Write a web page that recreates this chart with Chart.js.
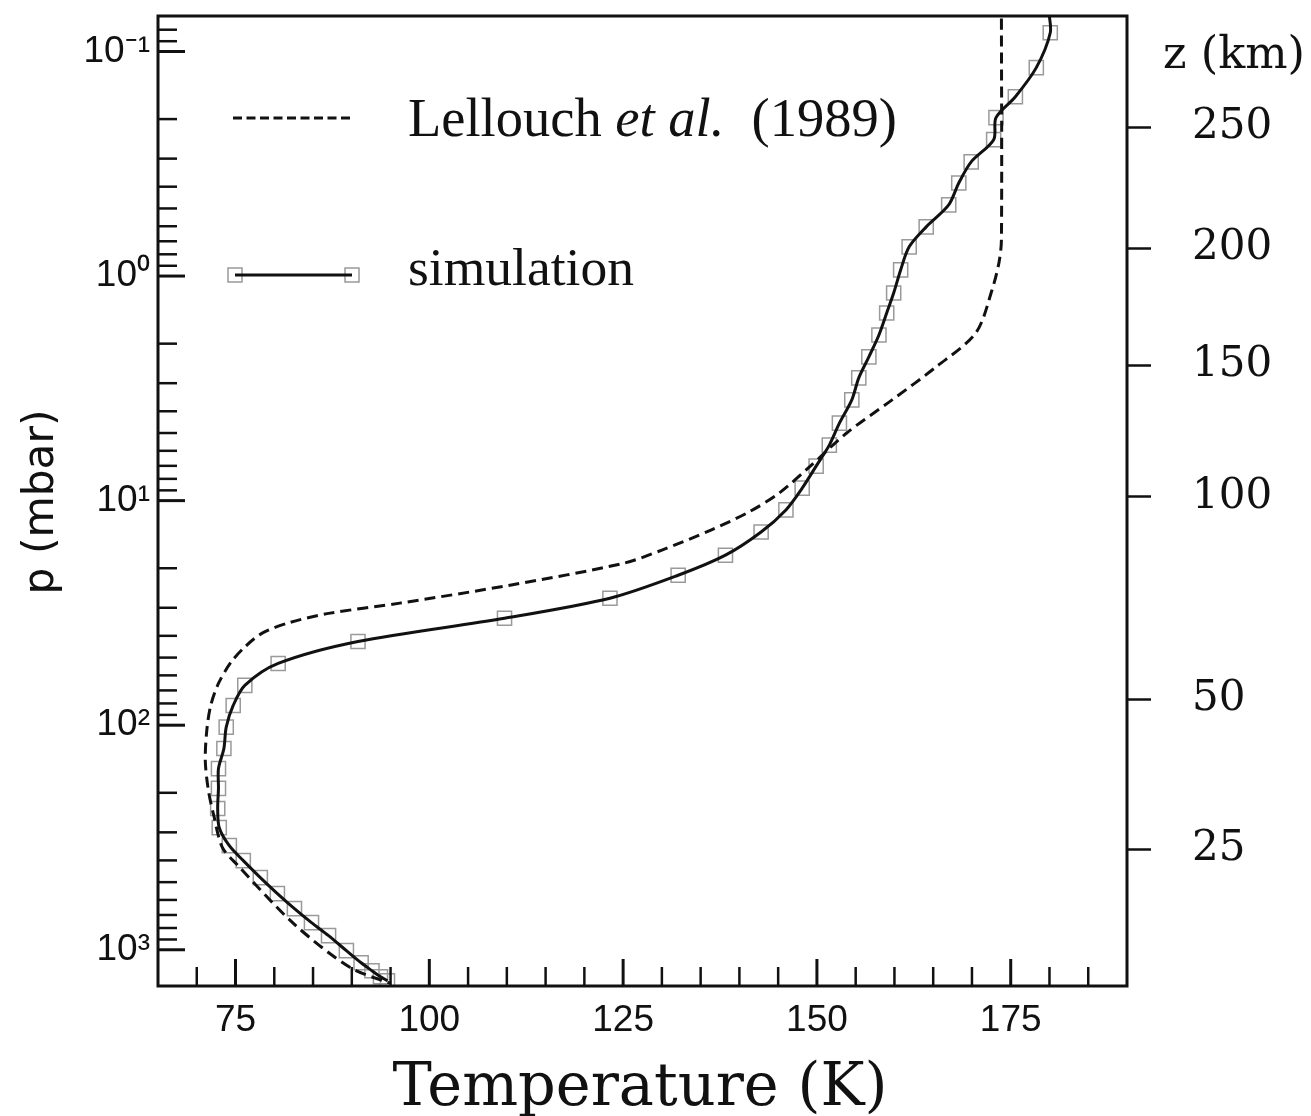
<!DOCTYPE html>
<html><head><meta charset="utf-8">
<script src="https://cdn.jsdelivr.net/npm/chart.js@4/dist/chart.umd.min.js"></script>
<style>html,body{margin:0;padding:0;background:#fff}#wrap{width:1311px;height:1116px}</style>
</head><body><div id="wrap"><canvas id="c" width="1311" height="1116"></canvas></div>
<script>
// ---- data ----
const simT = [179.9, 180.1, 178.3, 175.6, 173.1, 172.8, 169.9, 168.3, 167.0, 164.1, 161.9, 160.8, 159.9, 159.0, 158.0, 156.7, 155.4, 154.5, 152.9, 151.6, 149.9, 148.1, 146.0, 142.8, 138.2, 132.1, 123.3, 109.7, 90.8, 80.5, 76.2, 74.7, 73.8, 73.5, 72.8, 72.8, 72.7, 72.9, 74.2, 76.0, 78.2, 80.4, 82.6, 84.8, 87.0, 89.3, 91.2, 92.6, 93.7, 94.6];
const simP = [0.066, 0.0825, 0.118, 0.159, 0.197, 0.247, 0.310, 0.385, 0.482, 0.604, 0.741, 0.939, 1.19, 1.46, 1.83, 2.29, 2.84, 3.56, 4.52, 5.66, 7.02, 8.80, 11.0, 13.8, 17.5, 21.5, 27.2, 33.4, 42.4, 53.1, 66.5, 81.7, 102, 127, 156, 191, 235, 286, 344, 401, 477, 562, 656, 757, 865, 1009, 1143, 1240, 1319, 1374];
const lelT = [173.8, 173.8, 173.5, 172.6, 170.5, 165.3, 159.7, 153.8, 149.0, 145.1, 141.3, 136.4, 130.0, 125.1, 110.4, 96.2, 87.2, 82.1, 78.5, 76.3, 74.4, 72.8, 71.8, 71.3, 71.1, 71.5, 72.2, 73.3, 75.3, 82.5, 89.8, 95.0];
const lelP = [0.06, 0.69, 0.865, 1.15, 1.79, 2.55, 3.56, 5.01, 7.10, 9.27, 11.2, 13.5, 16.6, 19.0, 23.8, 28.6, 31.7, 34.8, 38.8, 44.5, 52.5, 65.2, 81.7, 105, 144, 195, 253, 350, 421, 765, 1200, 1413];
const xTickVals = [70, 75, 80, 85, 90, 95, 100, 105, 110, 115, 120, 125, 130, 135, 140, 145, 150, 155, 160, 165, 170, 175, 180, 185];
const xMajor = [75, 100, 125, 150, 175];
const pTickVals = [0.08, 0.09, 0.1, 0.2, 0.3, 0.4, 0.5, 0.6, 0.7, 0.8, 0.9, 1, 2, 3, 4, 5, 6, 7, 8, 9, 10, 20, 30, 40, 50, 60, 70, 80, 90, 100, 200, 300, 400, 500, 600, 700, 800, 900, 1000];
const pMajor = [0.1, 1, 10, 100, 1000];
const pMajorLabels = ['10\u207B\u00B9', '10\u2070', '10\u00B9', '10\u00B2', '10\u00B3'];
const zLabels = ['250', '200', '150', '100', '50', '25'];
const zPressure = [0.217, 0.751, 2.49, 9.62, 76.9, 358];
const xTitle = 'Temperature (K)';
const yTitle = 'p (mbar)';
const zTitle = 'z (km)';
const legLel = ['Lellouch ', 'et al.', '  (1989)'];
const legSim = 'simulation';

const simData = simT.map((t, i) => ({x: t, y: simP[i]}));
const lelData = lelT.map((t, i) => ({x: t, y: lelP[i]}));
const INK = '#111';

function fitFont(ctx, text, family, style, target, base) {
  ctx.font = style + ' ' + base + 'px "' + family + '"';
  const w = ctx.measureText(text).width;
  return base * target / w;
}
function noPadV(s) { s.paddingTop = 0; s.paddingBottom = 0; }

const decor = {
  id: 'decor',
  afterDraw(chart) {
    const ctx = chart.ctx, a = chart.chartArea;
    const xs = chart.scales.x, ys = chart.scales.y;
    ctx.save();
    ctx.strokeStyle = INK; ctx.lineCap = 'butt';
    // inward tick marks
    xs.ticks.forEach(t => {
      const px = xs.getPixelForValue(t.value);
      const mj = xMajor.includes(t.value);
      ctx.lineWidth = mj ? 3 : 2.5;
      ctx.beginPath(); ctx.moveTo(px, a.bottom); ctx.lineTo(px, a.bottom - (mj ? 27 : 19)); ctx.stroke();
    });
    ys.ticks.forEach(t => {
      const py = ys.getPixelForValue(t.value);
      const mj = pMajor.some(v => Math.abs(v - t.value) < 1e-9);
      ctx.lineWidth = mj ? 3 : 2.5;
      ctx.beginPath(); ctx.moveTo(a.left, py); ctx.lineTo(a.left + (mj ? 27 : 19), py); ctx.stroke();
    });
    // frame
    ctx.lineWidth = 3;
    ctx.strokeRect(a.left, a.top, a.right - a.left, a.bottom - a.top);

    // legend
    ctx.setLineDash([9, 4.5]); ctx.lineWidth = 3;
    ctx.beginPath(); ctx.moveTo(233, 118); ctx.lineTo(353, 118); ctx.stroke();
    ctx.setLineDash([]);
    ctx.strokeStyle = '#999'; ctx.lineWidth = 1.5;
    ctx.strokeRect(228, 268, 14, 14); ctx.strokeRect(345, 268, 14, 14);
    ctx.strokeStyle = INK; ctx.lineWidth = 3;
    ctx.beginPath(); ctx.moveTo(235, 275); ctx.lineTo(352, 275); ctx.stroke();

    ctx.fillStyle = INK; ctx.textBaseline = 'alphabetic'; ctx.textAlign = 'left';
    // Lellouch et al. (1989)
    let base = 54;
    ctx.font = base + 'px "Liberation Serif"';
    let w0 = ctx.measureText(legLel[0]).width + ctx.measureText(legLel[2]).width;
    ctx.font = 'italic ' + base + 'px "Liberation Serif"';
    w0 += ctx.measureText(legLel[1]).width;
    const fs = base * 489 / w0;
    let x = 408;
    ctx.font = fs + 'px "Liberation Serif"'; ctx.fillText(legLel[0], x, 136); x += ctx.measureText(legLel[0]).width;
    ctx.font = 'italic ' + fs + 'px "Liberation Serif"'; ctx.fillText(legLel[1], x, 136); x += ctx.measureText(legLel[1]).width;
    ctx.font = fs + 'px "Liberation Serif"'; ctx.fillText(legLel[2], x, 136);
    // simulation
    ctx.font = fitFont(ctx, legSim, 'Liberation Serif', '', 226, 54) + 'px "Liberation Serif"';
    ctx.fillText(legSim, 408, 285);

    // x title
    ctx.textAlign = 'center';
    ctx.font = fitFont(ctx, xTitle, 'DejaVu Serif', '', 495, 58) + 'px "DejaVu Serif"';
    ctx.fillText(xTitle, 640, 1105);
    // z title
    ctx.textAlign = 'left';
    ctx.font = fitFont(ctx, zTitle, 'DejaVu Serif', '', 142, 40) + 'px "DejaVu Serif"';
    ctx.fillText(zTitle, 1163, 68);
    // y title (rotated)
    ctx.save();
    ctx.translate(42, 502); ctx.rotate(-Math.PI / 2);
    ctx.textAlign = 'center'; ctx.textBaseline = 'middle';
    ctx.font = fitFont(ctx, yTitle, 'DejaVu Sans', '', 185, 40) + 'px "DejaVu Sans"';
    ctx.fillText(yTitle, 0, 0);
    ctx.restore();
    ctx.restore();
  }
};

new Chart(document.getElementById('c'), {
  type: 'line',
  data: {
    datasets: [
      {label: 'simulation', data: simData, borderColor: INK, borderWidth: 3, pointRadius: 0, tension: 0.3, fill: false, order: 0},
      {label: 'simulation markers', data: simData, showLine: false, pointStyle: 'rect',
       pointRadius: c => c.dataIndex === 0 ? 0 : 10, pointBorderColor: '#9a9a9a', pointBackgroundColor: 'rgba(0,0,0,0)', pointBorderWidth: 1.5, order: 2},
      {label: 'Lellouch et al. (1989)', data: lelData, borderColor: INK, borderWidth: 3, borderDash: [11, 6], pointRadius: 0, tension: 0.3, fill: false, order: 1}
    ]
  },
  options: {
    responsive: false, animation: false, devicePixelRatio: 1,
    layout: {padding: {top: 16, left: 0, right: 0, bottom: 0}},
    plugins: {legend: {display: false}, tooltip: {enabled: false}},
    scales: {
      x: {
        type: 'linear', position: 'bottom', min: 65, max: 190,
        afterBuildTicks: s => { s.ticks = xTickVals.map(v => ({value: v})); },
        ticks: {autoSkip: false, maxRotation: 0, padding: 13, color: INK,
                font: {family: 'Liberation Sans', size: 37},
                callback: v => xMajor.includes(v) ? String(v) : ''},
        grid: {drawOnChartArea: false, drawTicks: false, display: true, color: 'rgba(0,0,0,0)'},
        border: {display: false},
        afterFit: s => { s.height = 130; s.paddingLeft = 0; s.paddingRight = 0; }
      },
      y: {
        type: 'logarithmic', position: 'left', min: 0.0695, max: 1450, reverse: true,
        afterBuildTicks: s => { s.ticks = pTickVals.map(v => ({value: v})); },
        ticks: {autoSkip: false, padding: 8, color: INK,
                font: {family: 'Liberation Sans', size: 37},
                callback: v => { const i = pMajor.findIndex(m => Math.abs(m - v) < 1e-9); return i >= 0 ? pMajorLabels[i] : ''; }},
        grid: {drawOnChartArea: false, drawTicks: false, color: 'rgba(0,0,0,0)'},
        border: {display: false},
        afterFit: s => { s.width = 158; noPadV(s); }
      },
      y2: {
        type: 'logarithmic', position: 'right', min: 0.0695, max: 1450, reverse: true,
        afterBuildTicks: s => { s.ticks = zPressure.map(v => ({value: v})); },
        ticks: {autoSkip: false, padding: 41, color: INK,
                font: {family: 'DejaVu Serif', size: 42},
                callback: (v, i) => zLabels[i]},
        grid: {drawOnChartArea: false, drawTicks: true, tickLength: 24, tickWidth: 2.5, tickColor: INK, color: INK},
        border: {display: false},
        afterFit: s => { s.width = 184; noPadV(s); }
      }
    }
  },
  plugins: [decor]
});
</script></body></html>
